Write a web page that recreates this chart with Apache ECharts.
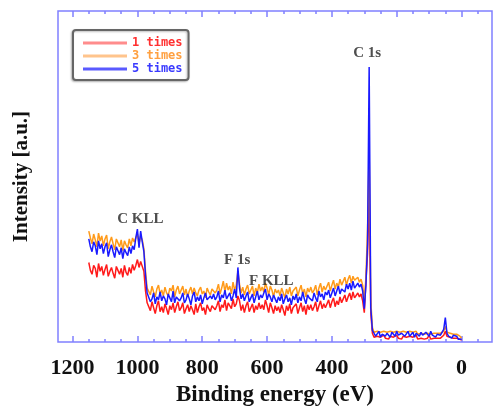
<!DOCTYPE html>
<html>
<head>
<meta charset="utf-8">
<script src="https://cdn.jsdelivr.net/npm/echarts@6/dist/echarts.min.js"></script>
<style>html,body{margin:0;padding:0;background:#fff}#c{width:494px;height:412px}</style>
</head>
<body>
<div id="c"></div>
<script>
// Binding energy (eV) sample positions
const energy = [
1150,1145,1140,1135,1130,1125,1120,1115,1110,1105,
1100,1095,1090,1085,1080,1075,1070,1065,1060,1055,
1050,1045,1040,1035,1030,1025,1020,1015,1010,
1005,1000,995,990,985,980,975,970,
965,960,955,950,945,940,935,930,925,920,
915,910,905,900,895,890,885,880,875,870,
865,860,855,850,845,840,835,830,825,820,
815,810,805,800,795,790,785,780,775,770,
765,760,755,750,745,740,735,730,725,720,
715,710,705,700,695,690,685,680,675,670,
665,660,655,650,645,640,635,630,625,620,
615,610,605,600,595,590,585,580,575,570,
565,560,555,550,545,540,535,530,525,520,
515,510,505,500,495,490,485,480,475,470,
465,460,455,450,445,440,435,430,425,420,
415,410,405,400,395,390,385,380,375,370,
365,360,355,350,345,340,335,330,
325,320,315,310,305,300,295,290,285,280,275,
270,265,260,255,250,245,240,235,230,225,
220,215,210,205,200,195,190,185,180,175,
170,165,160,155,150,145,140,135,130,125,
120,115,110,105,100,95,90,85,80,75,
70,65,60,55,50,45,40,35,30,25,
20,15,10,5,0
];
// Intensity (a.u.) - 1 times
const times1 = [
81,73,69,78,75,66,80,72,77,68,
74,79,67,72,76,70,65,77,73,69,
75,66,78,71,68,76,70,79,73,
78,84,76,82,80,72,52,40,
38,32,41,35,29,37,42,31,36,30,
39,34,28,37,33,40,30,36,41,32,
35,40,29,34,38,31,37,33,28,39,
30,36,40,32,35,28,38,34,31,37,
39,33,37,42,31,38,35,43,32,40,
41,34,44,36,39,47,42,32,38,30,
37,41,31,35,39,30,37,33,40,34,
38,33,43,37,30,40,35,29,37,32,
36,30,38,33,27,37,32,39,29,35,
33,39,29,35,40,31,37,28,38,33,
38,32,36,41,31,37,42,34,39,35,
37,43,35,41,45,36,42,38,46,40,
44,48,41,46,50,43,51,45,
47,50,46,49,42,30,62,90,150,30,9,
5,3,6,4,5,3,7,4,5,3,
6,4,5,3,7,4,5,3,6,4,
5,3,6,4,5,4,7,3,5,4,
6,3,5,4,7,3,5,4,6,4,
5,4,6,7,11,6,4,5,3,4,
3,4,2,3,2
];
// Intensity (a.u.) - 3 times
const times3 = [
113,106,100,110,104,97,111,103,108,98,
105,109,95,102,107,100,94,105,101,97,
104,93,103,99,96,105,98,106,102,
104,110,100,108,104,95,72,55,
55,48,57,51,46,54,58,49,53,47,
56,50,47,55,52,58,46,53,57,49,
51,57,48,54,46,52,56,49,55,50,
47,53,56,49,52,45,55,51,48,54,
56,50,53,59,49,55,62,51,60,53,
57,49,61,53,58,72,59,50,56,48,
54,58,49,53,57,47,55,50,59,52,
56,51,60,55,48,57,53,46,54,50,
53,47,55,50,45,54,49,56,47,52,
50,56,47,53,58,49,54,46,55,51,
56,50,53,58,48,55,60,51,57,53,
55,61,52,58,63,54,60,56,64,58,
62,66,58,64,68,60,67,63,
63,66,61,64,58,40,66,115,196,42,15,
10,8,11,9,10,8,11,9,10,8,
11,9,10,8,11,9,10,8,11,9,
10,8,11,9,10,9,11,8,10,9,
11,8,10,9,11,8,10,9,11,9,
10,9,10,11,16,10,8,9,7,8,
7,8,6,6,4
];
// Intensity (a.u.) - 5 times
const times5 = [
105,97,92,102,98,89,103,95,100,90,
97,101,87,94,99,92,86,97,93,89,
96,85,95,91,88,97,90,98,94,
106,115,96,113,102,92,68,50,
48,41,44,50,39,46,43,51,42,47,
44,38,49,45,41,52,40,46,48,42,
45,50,40,43,49,44,38,47,51,41,
46,42,48,39,45,50,43,41,47,44,
49,43,46,52,41,48,45,53,44,47,
50,42,47,54,45,76,55,44,49,42,
47,51,41,45,49,40,46,52,43,48,
45,50,54,43,49,46,41,48,44,40,
46,42,49,39,44,48,41,45,38,47,
43,49,40,46,42,51,44,39,48,45,
47,42,50,45,41,52,46,49,43,51,
48,53,45,50,55,47,52,57,49,54,
56,51,59,54,60,53,62,55,
57,60,56,59,52,34,58,100,280,35,12,
9,6,7,11,5,8,10,6,9,7,
5,10,8,6,11,7,5,9,10,6,
8,11,6,7,10,5,9,8,6,10,
7,5,10,8,6,11,7,9,5,8,
10,7,9,13,25,9,6,8,4,7,
5,6,3,5,3
];
const seriesNames = ['1 times', '3 times', '5 times'];
const seriesColors = ['#ff1a1a', '#ff9a1a', '#1a1aff'];
const legendIconColors = ['#ff8c8c', '#ffc48c', '#5a5aff'];
const legendTextColors = ['#ff3030', '#ffa040', '#3a3aff'];
const seriesValues = [times1, times3, times5];

const xMajorTicks = [0, 200, 400, 600, 800, 1000, 1200];
const xMinorTicks = [-50, 50, 100, 150, 250, 300, 350, 450, 500, 550, 650, 700, 750, 850, 900, 950, 1050, 1100, 1150];

const peakNames = ['C KLL', 'F 1s', 'F KLL', 'C 1s'];
const peakEnergy = [991, 692, 587, 291];
const peakLabelHeight = [125, 83, 62, 294];

const frameColor = '#8080ff';
const serif = '"Liberation Serif", "DejaVu Serif", serif';
const xMin = -94, xMax = 1245;

function xAxisBase(pos) {
  return {
    type: 'value', position: pos, min: xMin, max: xMax, inverse: true,
    axisLine: { show: false }, splitLine: { show: false },
    axisLabel: { show: false }, axisTick: { show: false }
  };
}
const xAxes = [];
const bottomMajor = xAxisBase('bottom');
bottomMajor.axisLabel = { show: true, customValues: xMajorTicks, margin: 15,
  formatter: v => String(v),
  fontFamily: serif, fontWeight: 'bold', fontSize: 22, color: '#111' };
bottomMajor.axisTick = { show: true, customValues: xMajorTicks, inside: true, length: 6,
  lineStyle: { color: frameColor, width: 1.5 } };
bottomMajor.name = 'Binding energy (eV)';
bottomMajor.nameLocation = 'middle';
bottomMajor.nameGap = 40;
bottomMajor.nameTextStyle = { fontFamily: serif, fontWeight: 'bold', fontSize: 23, color: '#111' };
xAxes.push(bottomMajor);
const topMajor = xAxisBase('top');
topMajor.axisTick = { show: true, customValues: xMajorTicks, inside: true, length: 6,
  lineStyle: { color: frameColor, width: 1.5 } };
xAxes.push(topMajor);
const bottomMinor = xAxisBase('bottom');
bottomMinor.axisTick = { show: true, customValues: xMinorTicks, inside: true, length: 3,
  lineStyle: { color: frameColor, width: 1.5 } };
xAxes.push(bottomMinor);
const topMinor = xAxisBase('top');
topMinor.axisTick = { show: true, customValues: xMinorTicks, inside: true, length: 3,
  lineStyle: { color: frameColor, width: 1.5 } };
xAxes.push(topMinor);

const series = seriesNames.map((name, k) => ({
  name: name, type: 'line', xAxisIndex: 0, yAxisIndex: 0,
  data: energy.map((e, i) => [e, seriesValues[k][i]]),
  showSymbol: false, symbol: 'none', animation: false,
  lineStyle: { color: seriesColors[k], width: 1.5 },
  itemStyle: { color: seriesColors[k] },
  z: 2 + k
}));
series.push({
  name: 'peaks', type: 'scatter', xAxisIndex: 0, yAxisIndex: 0,
  symbolSize: 0, animation: false, silent: true, z: 10,
  data: peakNames.map((n, i) => ({ name: n, value: [peakEnergy[i], peakLabelHeight[i]] })),
  label: { show: true, position: 'inside', formatter: p => p.name,
    fontFamily: serif, fontWeight: 'bold', fontSize: 15, color: '#222' }
});

const chart = echarts.init(document.getElementById('c'), null, { renderer: 'canvas' });
chart.setOption({
  animation: false,
  backgroundColor: '#fff',
  grid: { left: 58, right: 2, top: 11, bottom: 64, show: true,
    borderColor: frameColor, borderWidth: 1.5, backgroundColor: 'transparent' },
  legend: {
    orient: 'vertical', left: 73, top: 30,
    data: seriesNames.map((n, k) => ({ name: n, icon: 'rect',
      itemStyle: { color: legendIconColors[k] },
      textStyle: { color: legendTextColors[k] } })),
    itemWidth: 44, itemHeight: 3, itemGap: 1,
    padding: [7, 6, 5, 10],
    borderColor: '#666', borderWidth: 2, borderRadius: 3,
    shadowColor: 'rgba(0,0,0,0.25)', shadowBlur: 2, shadowOffsetX: -1, shadowOffsetY: 1,
    backgroundColor: '#fff',
    textStyle: { fontFamily: '"DejaVu Sans Mono", monospace', fontSize: 12, fontWeight: 'bold', lineHeight: 12 }
  },
  xAxis: xAxes,
  yAxis: [{
    type: 'value', min: 0, max: 337,
    axisLine: { show: false }, axisTick: { show: false }, axisLabel: { show: false },
    splitLine: { show: false },
    name: 'Intensity [a.u.]', nameLocation: 'middle', nameGap: 26,
    nameTextStyle: { fontFamily: serif, fontWeight: 'bold', fontSize: 21, color: '#111' }
  }],
  series: series
});
</script>
</body>
</html>
